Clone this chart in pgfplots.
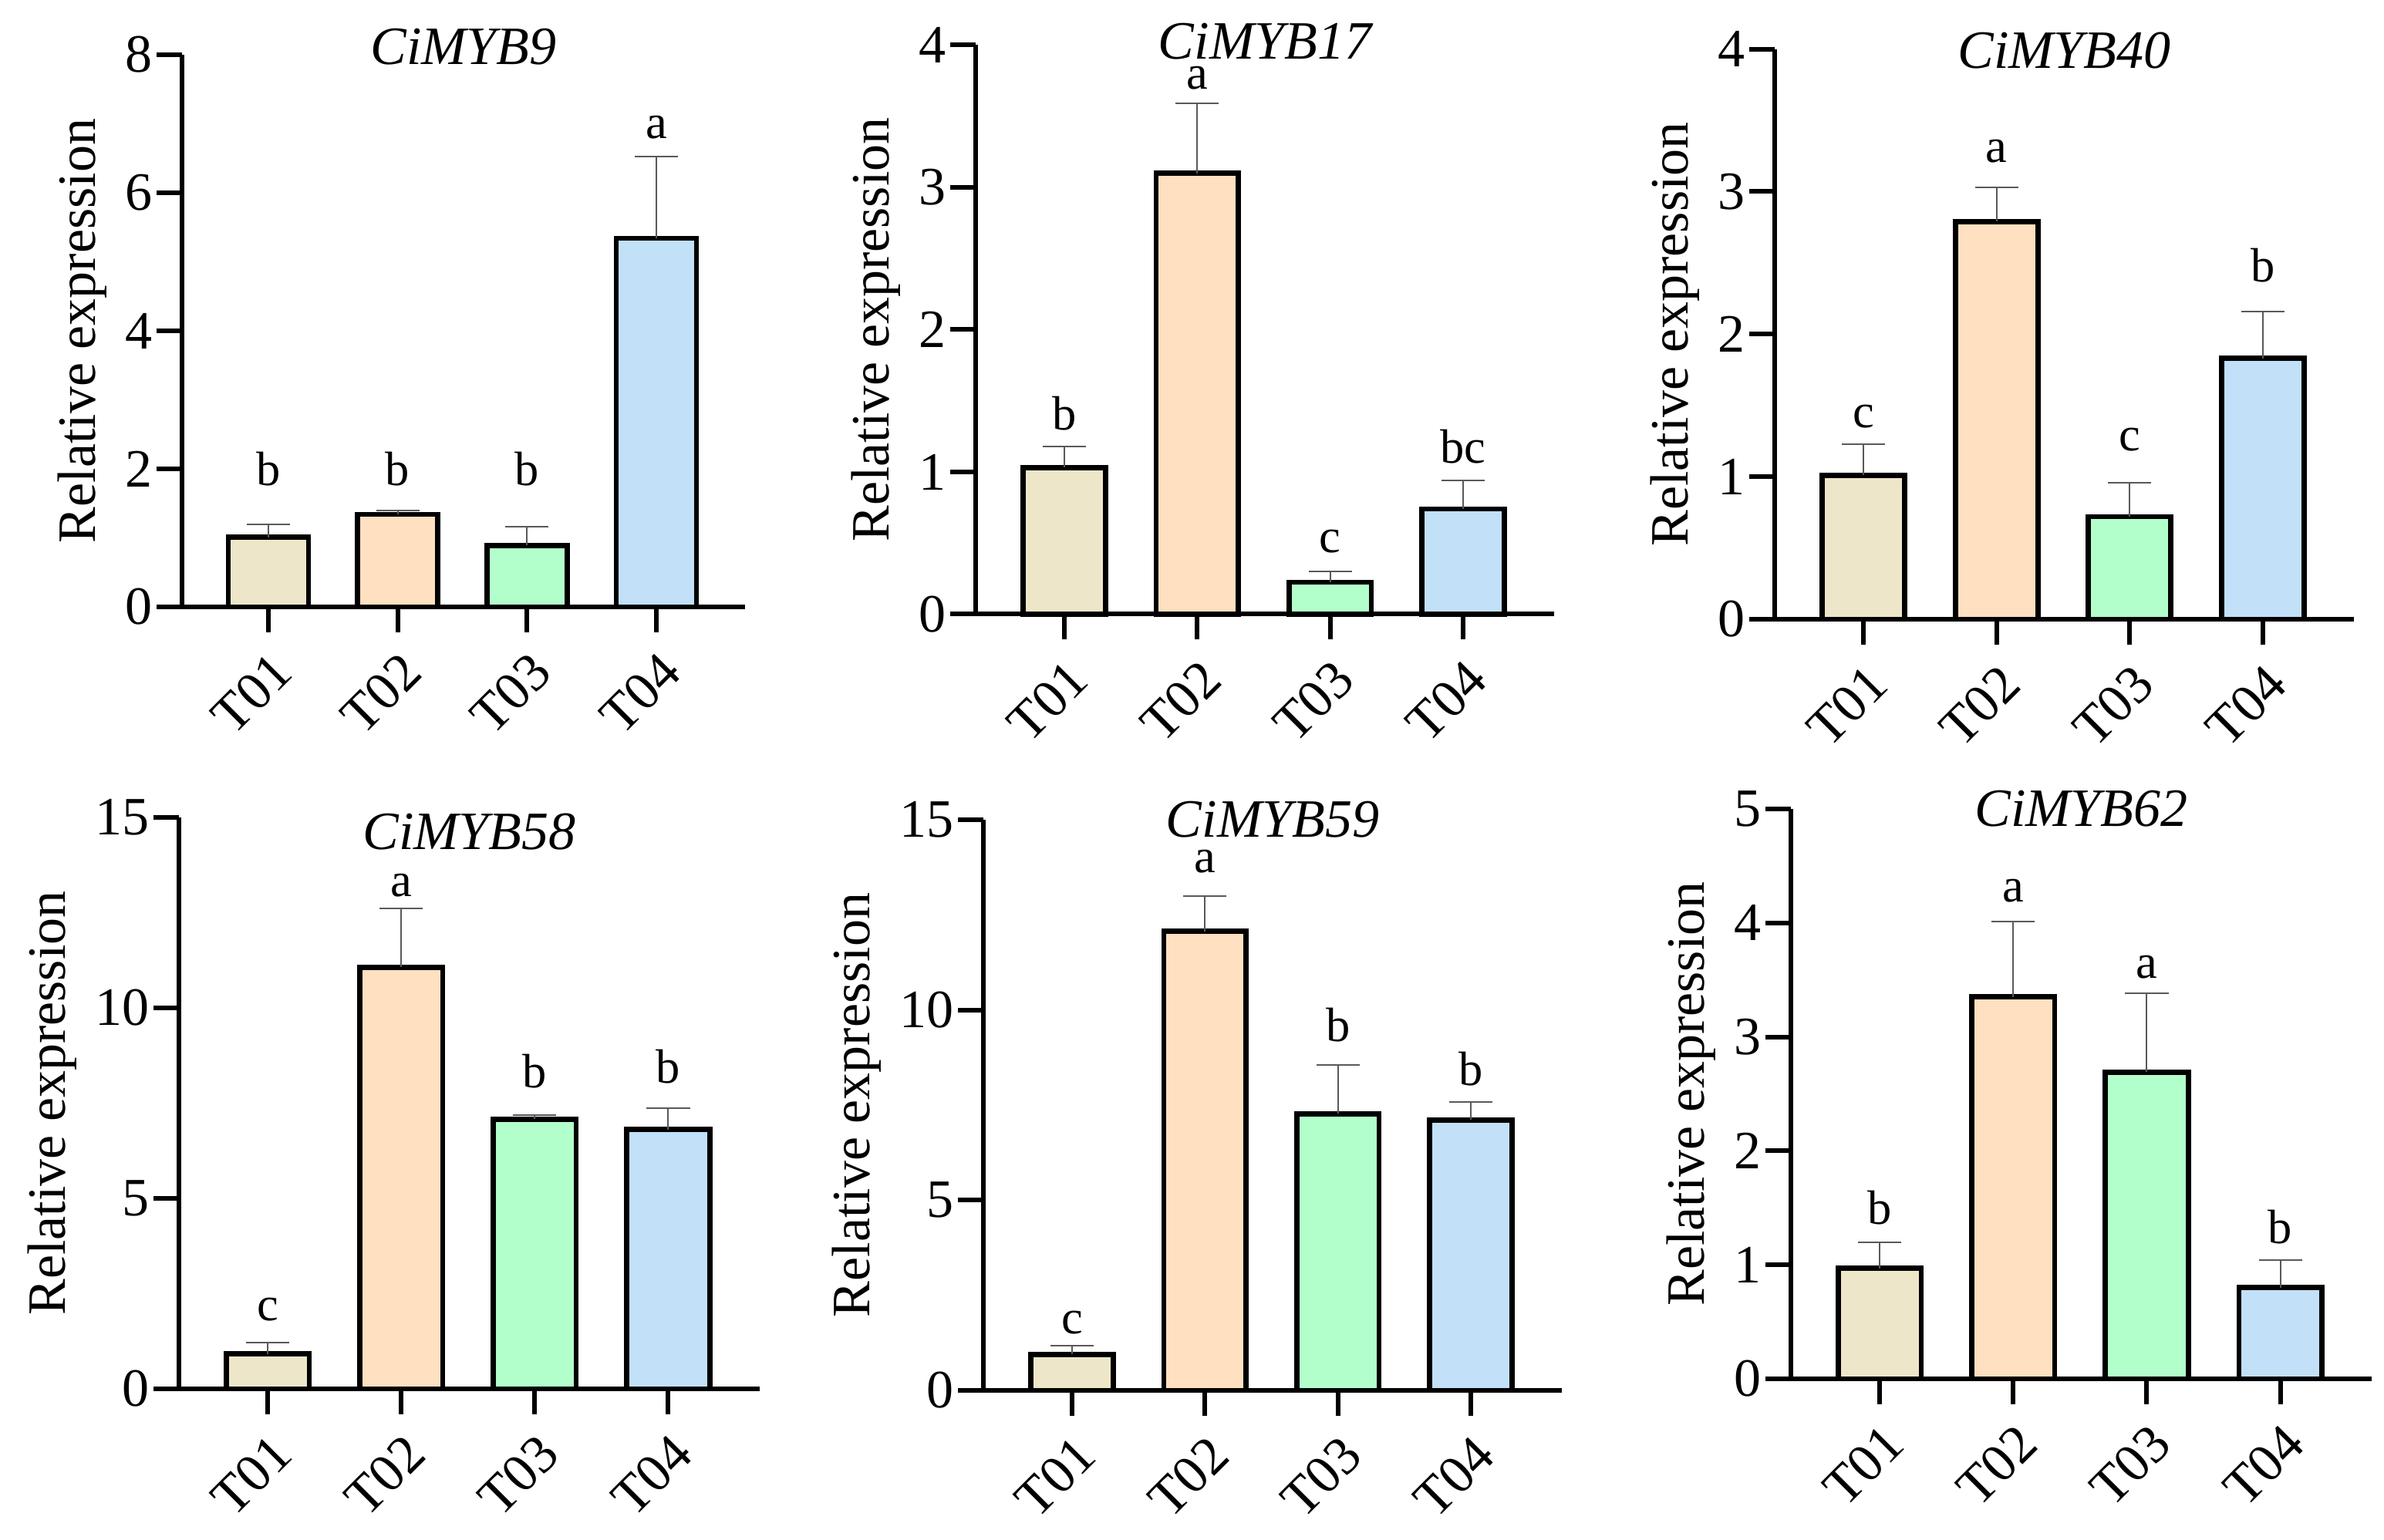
\documentclass[border=0pt]{standalone}
\usepackage{fontspec}
\setmainfont{Liberation Serif}
\usepackage{pgfplots}
\pgfplotsset{compat=1.18}
\definecolor{cA}{HTML}{EDE6C9}
\definecolor{cB}{HTML}{FFE0C0}
\definecolor{cC}{HTML}{B3FFCC}
\definecolor{cD}{HTML}{C2E0F8}
\newcommand{\fs}{\fontsize{14bp}{16bp}\selectfont}
\newcommand{\fl}{\fontsize{12.5bp}{14bp}\selectfont}
\pgfplotsset{
  myax/.style={
    scale only axis, axis lines=left,
    axis line style={-, line width=1.2bp},
    tick style={line width=1.2bp, black}, major tick length=6.6bp, tick align=outside,
    xtick pos=left, ytick pos=left,
    xmin=-0.667, xmax=3.685, ymin=0,
    xtick={0,1,2,3}, xticklabels={T01,T02,T03,T04},
    xticklabel style={rotate=45, anchor=north east, font=\fs, xshift=0.5bp},
    yticklabel style={font=\fs, xshift=2.5bp},
    ylabel={Relative expression}, ylabel style={font=\fs, yshift=-2bp},
    title style={font=\fs\itshape, at={(0.5,1)}, anchor=center, yshift=-6pt},
    /pgf/number format/assume math mode=true,
    ybar, bar width=0.62, bar shift=0pt,
    clip=false,
    every axis plot/.append style={draw=black, line width=1.35bp},
    error bars/y dir=plus, error bars/y explicit,
    error bars/error bar style={line width=0.4bp, draw=black!65},
    error bars/error mark options={rotate=90, line width=0.4bp, draw=black!65, mark size=5.6bp},
  }
}
\newcommand{\bars}[8]{%
  \addplot[fill=cA] coordinates {(0,#1) +- (0,#2)};
  \addplot[fill=cB] coordinates {(1,#3) +- (0,#4)};
  \addplot[fill=cC] coordinates {(2,#5) +- (0,#6)};
  \addplot[fill=cD] coordinates {(3,#7) +- (0,#8)};
}
\newcommand{\lets}[8]{%
  \node[font=\fl] at (axis cs:0,#2) {#1};
  \node[font=\fl] at (axis cs:1,#4) {#3};
  \node[font=\fl] at (axis cs:2,#6) {#5};
  \node[font=\fl] at (axis cs:3,#8) {#7};
}
\begin{document}
\begin{tikzpicture}
\useasboundingbox (0,0) rectangle (618.2bp,399.4bp);
% CiMYB9
\begin{axis}[myax, at={(47.2bp,242.0bp)}, anchor=south west, width=146bp, height=143.2bp,
  ymax=8, ytick={0,2,4,6,8}, title={CiMYB9}, title style={yshift=2bp}]
\bars{1.01}{0.19}{1.34}{0.06}{0.89}{0.27}{5.34}{1.19}
\lets{b}{2.00}{b}{2.00}{b}{2.00}{a}{6.95}
\end{axis}
% CiMYB17
\begin{axis}[myax, at={(253.0bp,240.1bp)}, anchor=south west, width=150bp, height=147.6bp,
  ymax=4, ytick={0,1,2,3,4}, title={CiMYB17}, title style={yshift=1bp}]
\bars{1.03}{0.15}{3.10}{0.49}{0.225}{0.075}{0.74}{0.20}
\lets{b}{1.41}{a}{3.77}{c}{0.51}{bc}{1.18}
\end{axis}
% CiMYB40
\begin{axis}[myax, at={(460.2bp,238.8bp)}, anchor=south west, width=150.2bp, height=147.9bp,
  ymax=4, ytick={0,1,2,3,4}, title={CiMYB40}, title style={yshift=-0.5bp}]
\bars{1.01}{0.22}{2.79}{0.24}{0.72}{0.24}{1.83}{0.33}
\lets{c}{1.42}{a}{3.28}{c}{1.26}{b}{2.48}
\end{axis}
% CiMYB58
\begin{axis}[myax, at={(46.4bp,39.2bp)}, anchor=south west, width=150.6bp, height=148.2bp,
  ymax=15, ytick={0,5,10,15}, title={CiMYB58}, title style={yshift=-3.8bp}]
\bars{0.92}{0.29}{11.07}{1.55}{7.08}{0.11}{6.81}{0.56}
\lets{c}{2.09}{a}{13.21}{b}{8.34}{b}{8.46}
\end{axis}
% CiMYB59
\begin{axis}[myax, at={(255.0bp,38.8bp)}, anchor=south west, width=150bp, height=148bp,
  ymax=15, ytick={0,5,10,15}, title={CiMYB59}]
\bars{0.95}{0.22}{12.07}{0.93}{7.27}{1.29}{7.11}{0.47}
\lets{c}{1.79}{a}{13.9}{b}{9.61}{b}{8.45}
\end{axis}
% CiMYB62
\begin{axis}[myax, at={(464.4bp,41.8bp)}, anchor=south west, width=150.6bp, height=147.8bp,
  ymax=5, ytick={0,1,2,3,4,5}, title={CiMYB62}]
\bars{0.97}{0.23}{3.35}{0.66}{2.69}{0.69}{0.80}{0.24}
\lets{b}{1.50}{a}{4.28}{a}{3.61}{b}{1.33}
\end{axis}
\end{tikzpicture}
\end{document}
